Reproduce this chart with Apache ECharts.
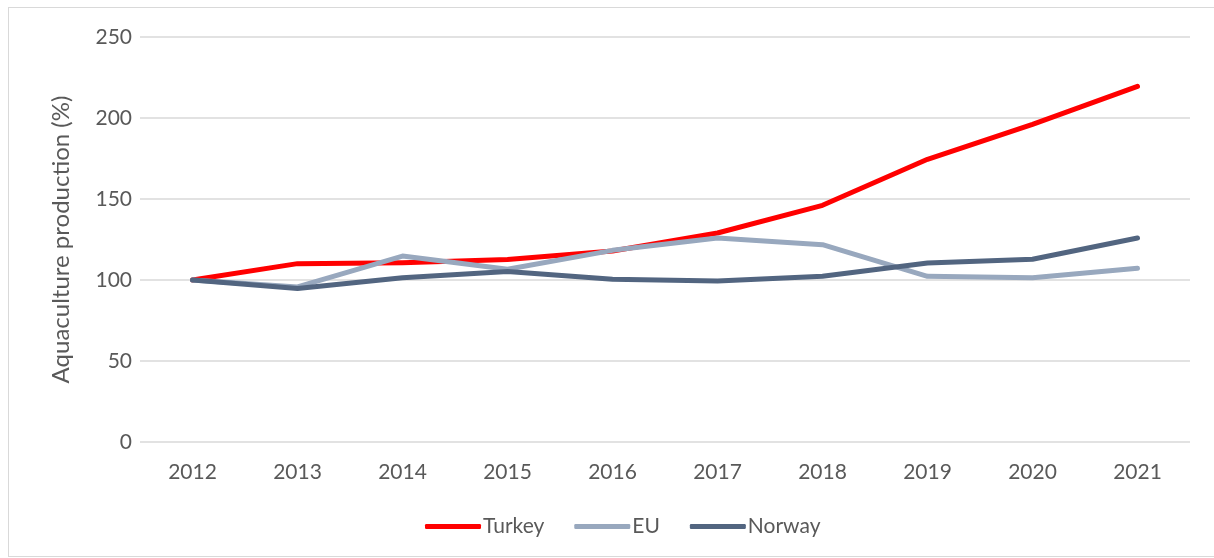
<!DOCTYPE html>
<html>
<head>
<meta charset="utf-8">
<script src="https://cdn.jsdelivr.net/npm/echarts@6/dist/echarts.min.js"></script>
<style>
  html, body { margin: 0; padding: 0; background: #fff; }
  #frame { position: absolute; left: 8px; top: 7px; width: 1220px; height: 548px; border: 1px solid #d9d9d9; }
  #main { width: 1214px; height: 558px; position: absolute; left: 0; top: 0; }
</style>
</head>
<body>
<div id="frame"></div>
<div id="main"></div>
<script>
var years = ['2012', '2013', '2014', '2015', '2016', '2017', '2018', '2019', '2020', '2021'];
var turkey = [100, 110.1, 110.7, 112.6, 117.9, 129, 146.1, 174.5, 196.1, 219.5];
var eu = [100, 95.7, 114.8, 106.6, 118.3, 125.9, 121.8, 102.3, 101.4, 107.2];
var norway = [100, 94.7, 101.4, 105.3, 100.4, 99.4, 102.3, 110.5, 112.8, 125.9];
var yTicks = [0, 50, 100, 150, 200, 250];

var fontName = 'Lato';
var textColor = '#595959';
var myChart = echarts.init(document.getElementById('main'));

function lineSeries(name, data, color) {
    return {
        name: name,
        type: 'line',
        data: data,
        symbol: 'none',
        lineStyle: { width: 5, color: color, cap: 'round', join: 'round' },
        itemStyle: { color: color }
    };
}

var option = {
    animation: false,
    grid: { left: 140, right: 24, top: 37, bottom: 116 },
    legend: {
        bottom: 16,
        left: 420,
        itemWidth: 56,
        itemHeight: 5,
        itemGap: 30,
        icon: 'roundRect',
        textStyle: { fontFamily: fontName, fontSize: 21, color: textColor, padding: [0, 0, 0, -3] },
        data: ['Turkey', 'EU', 'Norway']
    },
    xAxis: {
        type: 'category',
        data: years,
        axisLine: { show: false },
        axisTick: { show: false },
        axisLabel: { fontFamily: fontName, fontSize: 21, color: textColor, margin: 20 }
    },
    yAxis: {
        type: 'value',
        min: yTicks[0],
        max: yTicks[yTicks.length - 1],
        interval: 50,
        name: 'Aquaculture production (%)',
        nameLocation: 'middle',
        nameGap: 67,
        nameTextStyle: { fontFamily: fontName, fontSize: 24, color: textColor },
        axisLine: { show: false },
        axisTick: { show: false },
        axisLabel: { fontFamily: fontName, fontSize: 21, color: textColor, margin: 8 },
        splitLine: { lineStyle: { color: '#d9d9d9', width: 1.5 } }
    },
    series: [
        lineSeries('Turkey', turkey, '#ff0000'),
        lineSeries('EU', eu, '#98a8be'),
        lineSeries('Norway', norway, '#526580')
    ]
};
myChart.setOption(option);
</script>
</body>
</html>
